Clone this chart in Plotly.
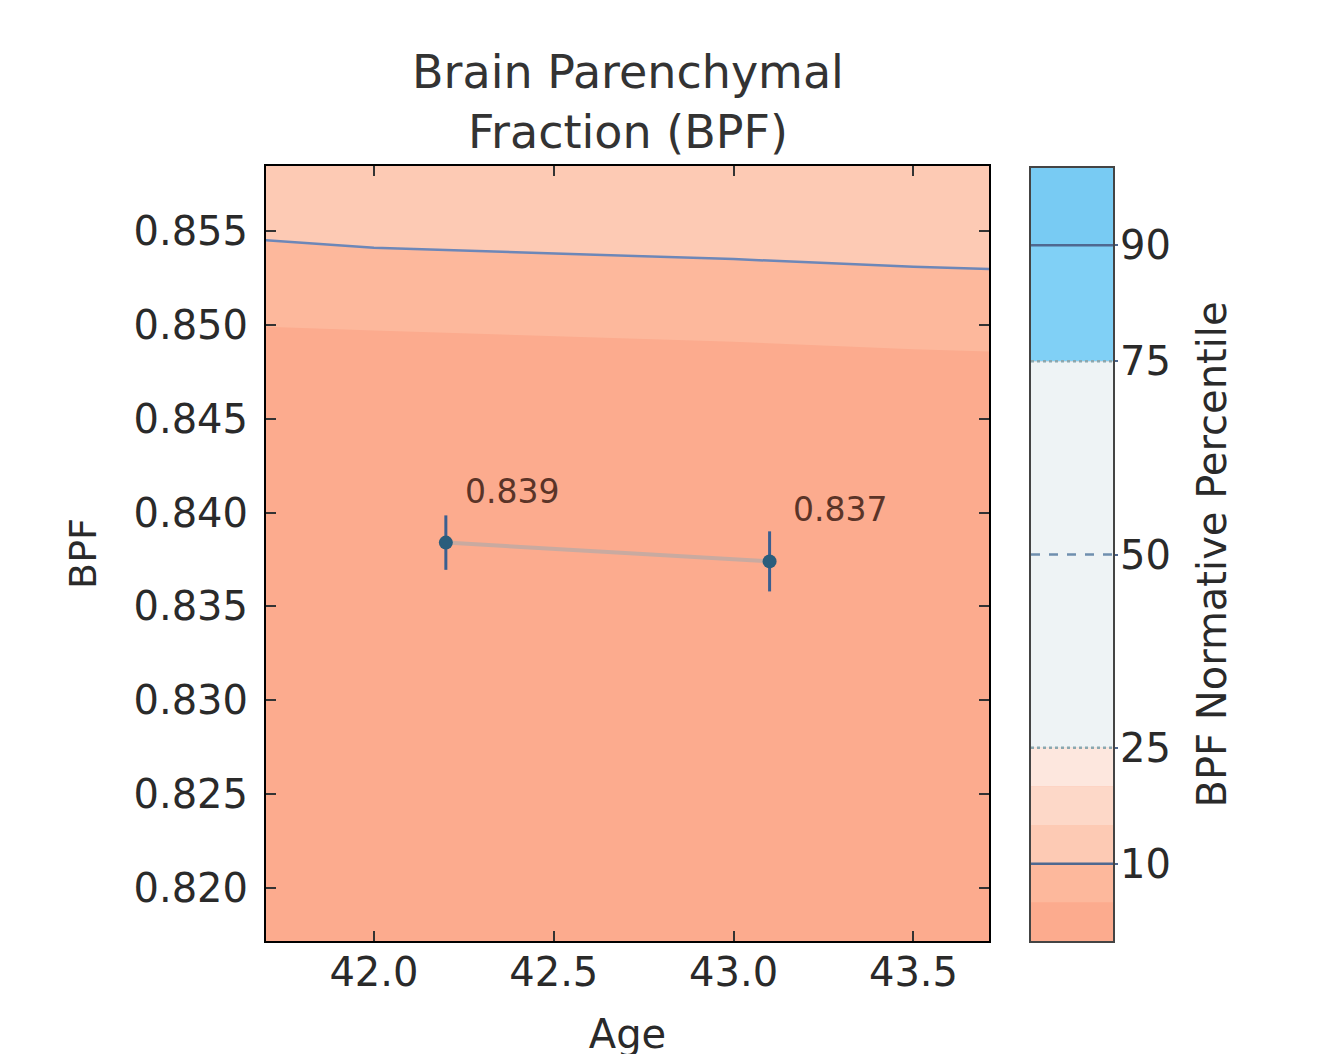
import plotly.graph_objects as go

# ---- data ----
ages = [41.5, 41.7, 42.0, 42.5, 43.0, 43.5, 43.71, 44.0]
p5 = [0.8500, 0.8499, 0.8497, 0.8494, 0.8491, 0.8487, 0.8486, 0.8484]
p10 = [0.8547, 0.8545, 0.8541, 0.8538, 0.8535, 0.8531, 0.8530, 0.8528]
p15 = [0.8600, 0.8599, 0.8597, 0.8594, 0.8591, 0.8588, 0.8587, 0.8585]

subj_age = [42.2, 43.1]
subj_bpf = [0.8384, 0.8374]
subj_err = [0.00145, 0.0016]
subj_labels = ["0.839", "0.837"]

pct_edges = [0, 5, 10, 15, 20, 25, 75, 90, 100]
band_colors = ["#fcab8e", "#fdb89c", "#fdcab4", "#fdd8c8", "#fde7de",
               "#eef3f5", "#80d0f6", "#78cbf3"]
pct_lines = [10, 25, 50, 75, 90]
pct_dash = ["solid", "dot", "dash", "dot", "solid"]
pct_line_colors = ["#4f6890", "#8aa8b0", "#6f8fae", "#8aa8b0", "#4f6890"]

FONT = "DejaVu Sans"
W, H = 1320, 1054
OFF = 7  # page offset of the plot div

fig = go.Figure()

# percentile bands in main axes
fig.add_trace(go.Scatter(x=ages, y=p5, mode="lines", line=dict(width=0),
                         showlegend=False, hoverinfo="skip"))
fig.add_trace(go.Scatter(x=ages, y=p10, mode="lines", line=dict(width=0),
                         fill="tonexty", fillcolor=band_colors[1],
                         showlegend=False, hoverinfo="skip"))
fig.add_trace(go.Scatter(x=ages, y=p15, mode="lines", line=dict(width=0),
                         fill="tonexty", fillcolor=band_colors[2],
                         showlegend=False, hoverinfo="skip"))
# 10th percentile line
fig.add_trace(go.Scatter(x=ages, y=p10, mode="lines",
                         line=dict(color="#6d87b8", width=2.5),
                         showlegend=False))

# subject measurements
fig.add_trace(go.Scatter(x=subj_age, y=subj_bpf, mode="lines",
                         line=dict(color="#c9aaa0", width=4),
                         showlegend=False))
fig.add_trace(go.Scatter(x=subj_age, y=subj_bpf, mode="markers",
                         marker=dict(color="#2a5d7c", size=14),
                         error_y=dict(type="data", array=subj_err, visible=True,
                                      color="#3a5f90", thickness=3, width=0),
                         showlegend=False))

for a, v, t, dx in zip(subj_age, subj_bpf, subj_labels, [17, 21]):
    fig.add_annotation(x=a, y=v, xref="x", yref="y", text=t, showarrow=False,
                       xanchor="left", yanchor="bottom", xshift=dx, yshift=30,
                       font=dict(family=FONT, size=33, color="#5a3428"))

# colorbar as a separate axis pair
heights = [pct_edges[i + 1] - pct_edges[i] for i in range(len(band_colors))]
fig.add_trace(go.Bar(x=[0] * len(heights), y=heights, base=pct_edges[:-1],
                     width=1, marker=dict(color=band_colors, line=dict(width=0)),
                     xaxis="x2", yaxis="y2", showlegend=False, hoverinfo="skip"))
for p, d, c in zip(pct_lines, pct_dash, pct_line_colors):
    fig.add_trace(go.Scatter(x=[-0.5, 0.5], y=[p, p], mode="lines",
                             line=dict(color=c, width=2.5, dash=d),
                             xaxis="x2", yaxis="y2", showlegend=False))

x0, x1 = (265 - OFF) / W, (988 - OFF) / W
y0, y1 = 1 - (940 - OFF) / H, 1 - (165 - OFF) / H
cx0, cx1 = (1030 - OFF) / W, (1112 - OFF) / W

# title as annotation (two lines)
fig.add_annotation(text="Brain Parenchymal<br>Fraction (BPF)", xref="paper", yref="paper",
                   x=(x0 + x1) / 2, y=1 - (160 - OFF) / H, xanchor="center",
                   yanchor="bottom", showarrow=False, align="center",
                   font=dict(family=FONT, size=46, color="#333"))

axis_common = dict(showline=True, linecolor="black", linewidth=2,
                   ticks="inside", ticklen=10, tickwidth=1.5, tickcolor="#333",
                   mirror="ticks", showgrid=False, zeroline=False,
                   tickfont=dict(family=FONT, size=40, color="#2a2a2a"))

fig.update_layout(
    width=W, height=H,
    margin=dict(l=0, r=0, t=0, b=0),
    paper_bgcolor="white",
    plot_bgcolor=band_colors[0],
    barmode="overlay",
    xaxis=dict(domain=[x0, x1], range=[41.70, 43.71],
               tickvals=[42.0, 42.5, 43.0, 43.5],
               ticktext=["42.0", "42.5", "43.0", "43.5"],
               title=dict(text="Age", standoff=26,
                          font=dict(family=FONT, size=40, color="#2a2a2a")),
               ticklabelstandoff=-5,
               **axis_common),
    yaxis=dict(domain=[y0, y1], range=[0.81718, 0.85846],
               tickvals=[0.820, 0.825, 0.830, 0.835, 0.840, 0.845, 0.850, 0.855],
               ticktext=["0.820", "0.825", "0.830", "0.835", "0.840", "0.845",
                         "0.850", "0.855"],
               title=dict(text="BPF", standoff=25,
                          font=dict(family=FONT, size=38, color="#2a2a2a")),
               ticklabelstandoff=8,
               **axis_common),
    xaxis2=dict(domain=[cx0, cx1], range=[-0.5, 0.5], anchor="y2",
                showticklabels=False, ticks="", showline=True, mirror=True,
                linecolor="#444", linewidth=2, showgrid=False, zeroline=False),
    yaxis2=dict(domain=[y0, 1 - (167 - OFF) / H], range=[0, 100], anchor="x2", side="right",
                tickvals=pct_lines, ticktext=[str(p) for p in pct_lines],
                ticks="outside", ticklen=3, tickwidth=2, tickcolor="#4f6890",
                showline=True, mirror=True, linecolor="#444", linewidth=2,
                showgrid=False, zeroline=False, ticklabelstandoff=-6,
                tickfont=dict(family=FONT, size=40, color="#2a2a2a"),
                title=dict(text="BPF Normative Percentile", standoff=28,
                           font=dict(family=FONT, size=40, color="#2a2a2a"))),
)

fig.write_html("out.html")
